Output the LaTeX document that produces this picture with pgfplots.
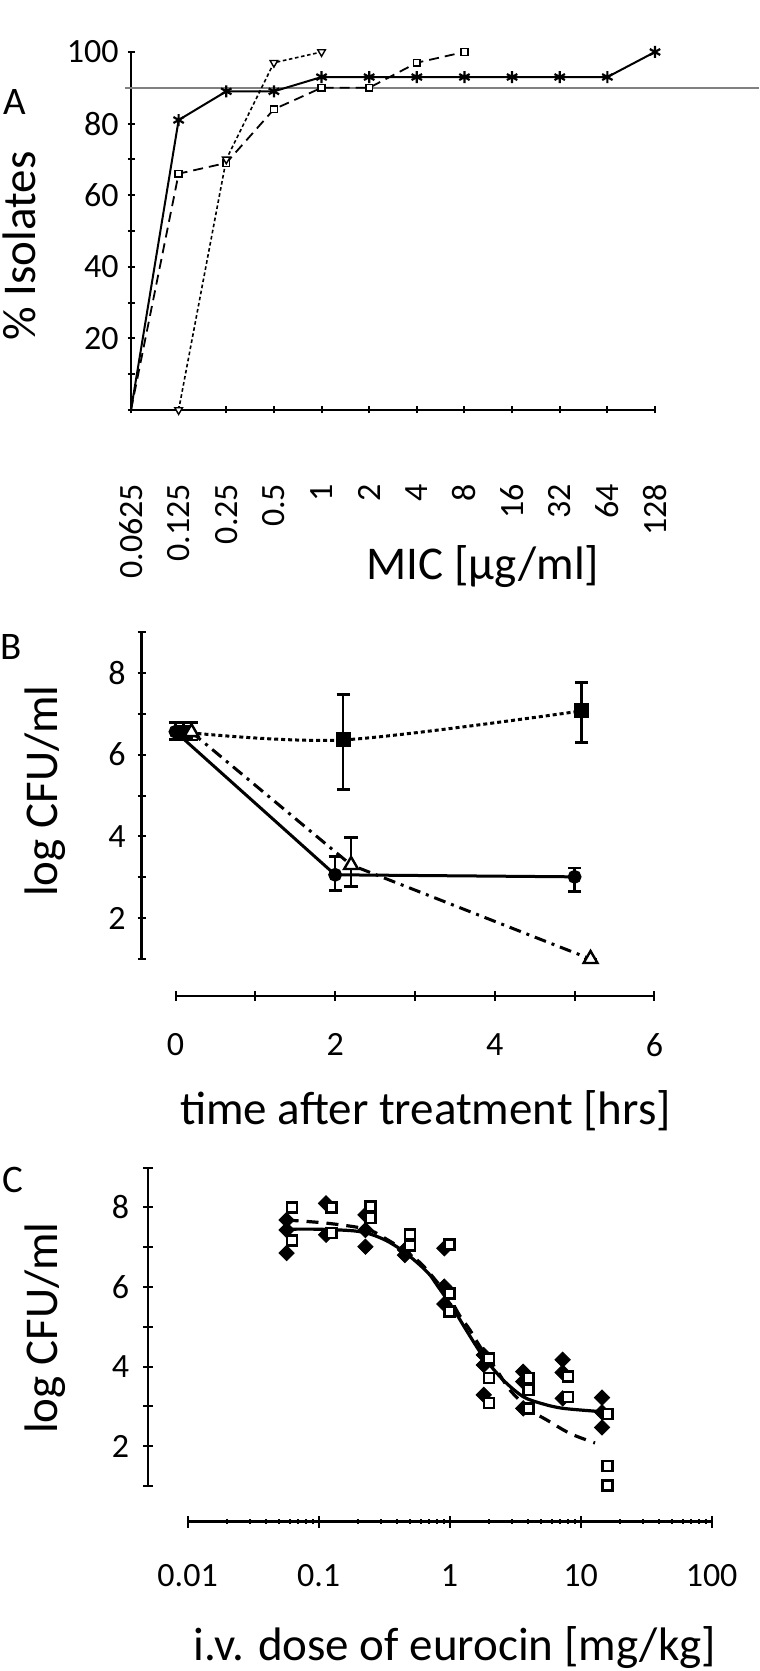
\documentclass[border=0pt]{standalone}
\usepackage{fontspec}
\setmainfont{Carlito}
\usepackage{pgfplots}
\pgfplotsset{compat=1.18}
\newcommand\tlfont{\fontsize{17}{20}\selectfont}
\newcommand\lbfont{\fontsize{23.5}{28}\selectfont}
\newcommand\tone{\hbox to \fontcharwd\font`0{\hss 1\hss}}
\newcommand\rs{\hspace*{15pt}}
\pgfplotsset{
  myaxis/.style={
    scale only axis, clip=false, anchor=south west,
    /pgf/number format/assume math mode=true,
    tick label style={font=\tlfont, inner sep=0pt},
    label style={font=\lbfont},
    tick style={black, line width=1pt},
    tick align=outside,
  },
  noarrows/.style={
    axis line style={-, line width=1.4pt},
    x axis line style={-},
    y axis line style={-},
    every outer x axis line/.append style={-},
    every outer y axis line/.append style={-},
    every inner x axis line/.append style={-},
    every inner y axis line/.append style={-},
  },
  errb/.style={error bars/.cd, y dir=both, y explicit,
    error mark=-,
    error bar style={line width=1.3pt, solid, black},
    error mark options={rotate=90, black, mark size=3.3pt, line width=1.3pt, solid}},
}
\begin{document}
\begin{tikzpicture}
\useasboundingbox (0pt,0pt) rectangle (380pt,835.5pt);
% ---------------- Panel A ----------------
\begin{axis}[myaxis, at={(65.5pt,630.5pt)}, width=262pt, height=179pt,
  axis lines=left, noarrows,
  xmin=0, xmax=11, ymin=0, ymax=100,
  xtick={0,...,11},
  xticklabels={0.0625\rs,0.\tone25\rs,0.25\rs,0.5\rs,\tone\rs,2\rs,4\rs,8\rs,\tone6\rs,32\rs,64\rs,\tone28\rs},
  xticklabel style={rotate=90, anchor=east},
  xticklabel shift=20pt,
  ytick={0,10,...,100}, yticklabels={,,20,,40,,60,,80,,\tone00},
  yticklabel style={anchor=east, xshift=-4.25pt},
  major tick length=3.5pt,
  xlabel={MIC [μg/ml]}, ylabel={\% Isolates},
  xlabel style={at={(axis description cs:0.6718,-0.4385)}, anchor=center},
  ylabel style={at={(axis description cs:-0.2137,0.458)}, anchor=center}]
\addplot[gray, line width=0.8pt, forget plot] coordinates {(-0.13,90) (13.19,90)};
\addplot[black, line width=1pt, mark=asterisk, mark size=3pt, mark options={line width=1.1pt}, mark indices={2,...,12}]
  coordinates {(0,0)(1,81)(2,89)(3,89)(4,93)(5,93)(6,93)(7,93)(8,93)(9,93)(10,93)(11,100)};
\addplot[black, line width=0.9pt, dash pattern=on 5pt off 3pt, mark=square*, mark size=1.7pt,
  mark options={solid, fill=white, line width=0.8pt}, mark indices={2,...,8}]
  coordinates {(0,0)(1,66)(2,69)(3,84)(4,90)(5,90)(6,97)(7,100)};
\addplot[black, line width=0.8pt, dash pattern=on 1.8pt off 1.3pt, mark=triangle*, mark size=2.2pt,
  mark options={solid, rotate=180, fill=white, line width=0.7pt}]
  coordinates {(1,0)(2,70)(3,97)(4,100)};
\end{axis}
\node[font=\fontsize{19.5}{22}\selectfont, inner sep=0pt] at (7.25pt,784.25pt) {A};
% ---------------- Panel B ----------------
\begin{axis}[myaxis, at={(70.75pt,356pt)}, width=256.45pt, height=163.5pt,
  axis y line=left, axis x line=none, noarrows, xtick=\empty,
  xmin=-0.426, xmax=6, ymin=1, ymax=9,
  ytick={1,...,9}, yticklabels={,2,,4,,6,,8,},
  yticklabel style={anchor=east, xshift=-5.75pt},
  major tick length=4pt,
  ylabel={log CFU/ml},
  ylabel style={at={(axis description cs:-0.1881,0.5138)}, anchor=center}]
\addplot[black, line width=1.5pt, mark=*, mark size=2.7pt, mark options={solid}, errb]
  coordinates {(0,6.56) += (0,0.23) -= (0,0.19) (2,3.06) += (0,0.45) -= (0,0.39) (5,3.01) += (0,0.22) -= (0,0.36)};
\addplot[black, line width=1.5pt, dash pattern=on 2pt off 1.5pt, smooth, mark=square*, mark size=3pt, mark options={solid}, errb]
  coordinates {(0.1,6.55) += (0,0.23) -= (0,0.19) (2.1,6.36) += (0,1.11) -= (0,1.21) (5.09,7.07) += (0,0.70) -= (0,0.77)};
\addplot[black, line width=1.5pt, dash pattern=on 6pt off 3pt on 1.5pt off 3pt, mark=triangle*, mark size=4pt,
  mark options={solid, fill=white, line width=1.2pt}, errb]
  coordinates {(0.2,6.55) += (0,0.23) -= (0,0.19) (2.2,3.30) += (0,0.67) -= (0,0.53) (5.2,1.0) += (0,0) -= (0,0)};
\end{axis}
\begin{axis}[myaxis, at={(87.75pt,337.5pt)}, width=239.45pt, height=10pt,
  axis x line=bottom, axis y line=none, noarrows, ytick=\empty,
  xmin=0, xmax=6, ymin=0, ymax=1,
  xtick={0,...,6}, xticklabels={0,,2,,4,,6},
  xticklabel style={anchor=north},
  xticklabel shift=16pt,
  major tick length=5pt,
  xlabel={time after treatment [hrs]},
  xlabel style={at={(axis description cs:0.522,-5.75)}, anchor=center}]
\end{axis}
\node[font=\fontsize{19.5}{22}\selectfont, inner sep=0pt] at (5.5pt,512.25pt) {B};
% ---------------- Panel C ----------------
\begin{axis}[myaxis, at={(74pt,92.5pt)}, width=281.8pt, height=159.25pt,
  xmode=log, axis y line=left, axis x line=none, noarrows, xtick=\empty, minor xtick={},
  xmin=0.00499, xmax=100, ymin=1, ymax=9,
  ytick={1,...,9}, yticklabels={,2,,4,,6,,8,},
  yticklabel style={anchor=east, xshift=-6.7pt},
  major tick length=5pt,
  ylabel={log CFU/ml},
  ylabel style={at={(axis description cs:-0.1828,0.496)}, anchor=center}]
\addplot[black, line width=1.6pt, smooth]
  coordinates {(0.057,7.45)(0.1,7.45)(0.184,7.41)(0.247,7.33)(0.331,7.16)(0.443,6.90)(0.594,6.55)(0.708,6.30)(0.797,6.06)(0.95,5.70)(1.13,5.32)(1.35,4.90)(1.81,4.25)(2.57,3.66)(3.66,3.24)(5.19,3.06)(7.38,2.95)(14.1,2.87)};
\addplot[black, line width=1.6pt, smooth, dash pattern=on 6pt off 4pt]
  coordinates {(0.057,7.68)(0.117,7.60)(0.234,7.45)(0.33,7.2)(0.45,6.92)(0.6,6.6)(0.8,6.13)(1.0,5.72)(1.2,5.27)(1.43,4.92)(1.71,4.50)(2.29,3.91)(2.89,3.41)(4.11,2.91)(5.51,2.66)(8.3,2.32)(12.9,2.08)};
\addplot[black, only marks, mark=square*, mark size=2.7pt, mark options={rotate=45}]
  coordinates {(0.057,7.68)(0.057,7.43)(0.057,6.85)
  (0.114,8.10)(0.114,7.31)
  (0.228,7.81)(0.228,7.43)(0.228,7.01)
  (0.456,6.93)(0.456,6.80)
  (0.912,6.97)(0.912,6.01)(0.912,5.57)
  (1.824,4.29)(1.824,4.04)(1.824,3.29)
  (3.648,3.87)(3.648,3.62)(3.648,2.95)
  (7.296,4.17)(7.296,3.85)(7.296,3.20)
  (14.59,3.22)(14.59,2.85)(14.59,2.47)};
\addplot[black, only marks, mark=square*, mark size=2.5pt, mark options={fill=white, draw=black, line width=1.3pt}]
  coordinates {(0.0625,7.99)(0.0625,7.16)
  (0.125,7.99)(0.125,7.35)
  (0.25,8.02)(0.25,7.73)
  (0.5,7.31)(0.5,7.04)
  (1,7.06)(1,5.84)(1,5.38)
  (2,4.21)(2,3.71)(2,3.08)
  (4,3.71)(4,3.41)(4,2.95)
  (8,3.75)(8,3.24)
  (16,2.81)(16,1.50)(16,1.02)};
\end{axis}
\begin{axis}[myaxis, at={(93.8pt,74.65pt)}, width=262pt, height=10pt,
  xmode=log, axis x line=bottom, axis y line=none, noarrows, ytick=\empty,
  xmin=0.01, xmax=100, ymin=0, ymax=1,
  xtick={0.01,0.1,1,10,100}, xticklabels={0.0\tone,0.\tone,\tone,\tone0,\tone00},
  minor xtick={0.02,0.03,0.04,0.05,0.06,0.07,0.08,0.09,0.2,0.3,0.4,0.5,0.6,0.7,0.8,0.9,2,3,4,5,6,7,8,9,20,30,40,50,60,70,80,90},
  xticklabel style={anchor=north},
  xticklabel shift=18.15pt,
  major tick length=6pt, minor tick length=2.5pt,
  xlabel={i.v. dose of eurocin [mg/kg]},
  xlabel style={at={(axis description cs:0.5103,-6.315)}, anchor=center}]
\end{axis}
\node[font=\fontsize{19.5}{22}\selectfont, inner sep=0pt] at (6.25pt,245.75pt) {C};
\end{tikzpicture}
\end{document}
